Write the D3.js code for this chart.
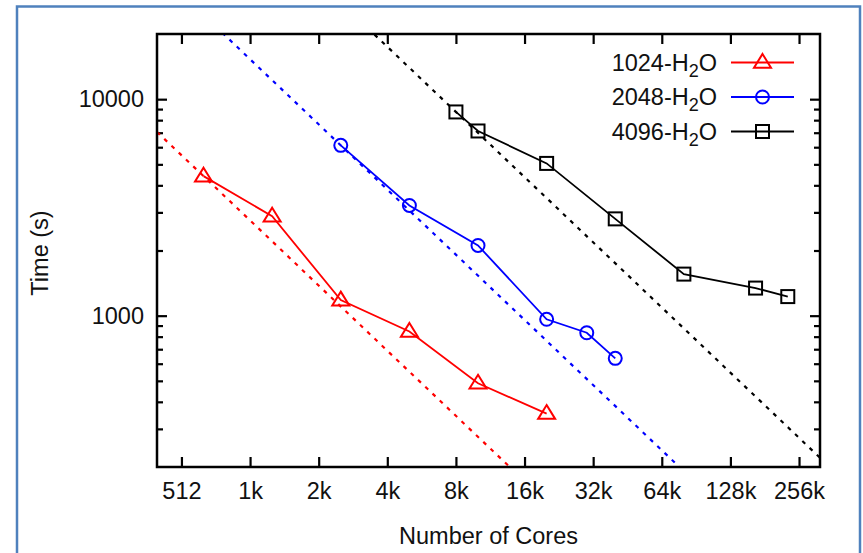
<!doctype html>
<html>
  <head>
    <meta charset="utf-8">
    <script src="https://cdn.jsdelivr.net/npm/d3@7"></script>
    <style>
      body { margin: 0; background: #ffffff; }
      svg { display: block; font-family: "Liberation Sans", Arial, sans-serif; }
    </style>
  </head>
  <body>
    <svg id="chart" width="863" height="553"></svg>
    <script>
      // data
      var seriesNames = ["1024", "2048", "4096"];
      var seriesColors = ["#ff0000", "#0000ff", "#000000"];
      var seriesSymbols = ["triangle", "circle", "square"];
      var cores1024 = [640, 1280, 2560, 5120, 10240, 20480];
      var time1024  = [4410, 2880, 1180, 845, 487, 353];
      var cores2048 = [2560, 5120, 10240, 20480, 30720, 40960];
      var time2048  = [6120, 3230, 2110, 962, 834, 635];
      var cores4096 = [8192, 10240, 20480, 40960, 81920, 169000, 234000];
      var time4096  = [8730, 7130, 5050, 2800, 1556, 1341, 1225];
      var xTicks = [512, 1024, 2048, 4096, 8192, 16384, 32768, 65536, 131072, 262144];
      var xTickLabels = ["512", "1k", "2k", "4k", "8k", "16k", "32k", "64k", "128k", "256k"];
      var yTicks = [1000, 10000];
      var yMinorTicks = [300, 400, 500, 600, 700, 800, 900, 2000, 3000, 4000, 5000, 6000, 7000, 8000, 9000];

      var series = [
        { cores: cores1024, time: time1024 },
        { cores: cores2048, time: time2048 },
        { cores: cores4096, time: time4096 }
      ];

      var margin = { left: 157, top: 34, right: 820, bottom: 467 };
      var svg = d3.select("#chart");

      // outer blue frame
      svg.append("rect")
        .attr("x", 17).attr("y", 6.5)
        .attr("width", 843).attr("height", 600)
        .attr("fill", "none")
        .attr("stroke", "#4f81bd")
        .attr("stroke-width", 2.5);

      var x = d3.scaleLog().base(2).domain([400, 324000]).range([margin.left, margin.right]);
      var y = d3.scaleLog().domain([200, 20000]).range([margin.bottom, margin.top]);

      svg.append("clipPath").attr("id", "plotclip")
        .append("rect")
          .attr("x", margin.left).attr("y", margin.top)
          .attr("width", margin.right - margin.left)
          .attr("height", margin.bottom - margin.top);

      var fontSize = 23.5;

      // axes, ticks pointing inwards like gnuplot
      var gx = svg.append("g").attr("transform", "translate(0," + margin.bottom + ")")
        .call(d3.axisBottom(x).tickValues(xTicks).tickSizeInner(-10).tickSizeOuter(0).tickPadding(27)
          .tickFormat(function(d, i) { return xTickLabels[i]; }));
      var gxt = svg.append("g").attr("transform", "translate(0," + margin.top + ")")
        .call(d3.axisTop(x).tickValues(xTicks).tickSizeInner(-10).tickSizeOuter(0).tickFormat(""));
      var gy = svg.append("g").attr("transform", "translate(" + margin.left + ",0)")
        .call(d3.axisLeft(y).tickValues(yTicks).tickSizeInner(-10).tickSizeOuter(0).tickPadding(13)
          .tickFormat(d3.format("d")));
      var gym = svg.append("g").attr("transform", "translate(" + margin.left + ",0)")
        .call(d3.axisLeft(y).tickValues(yMinorTicks).tickSizeInner(-6).tickSizeOuter(0).tickFormat(""));
      var gyr = svg.append("g").attr("transform", "translate(" + margin.right + ",0)")
        .call(d3.axisRight(y).tickValues(yTicks).tickSizeInner(-10).tickSizeOuter(0).tickFormat(""));
      var gyrm = svg.append("g").attr("transform", "translate(" + margin.right + ",0)")
        .call(d3.axisRight(y).tickValues(yMinorTicks).tickSizeInner(-6).tickSizeOuter(0).tickFormat(""));

      [gx, gxt, gy, gym, gyr, gyrm].forEach(function(g) {
        g.select(".domain").remove();
        g.selectAll(".tick line").attr("stroke", "#000").attr("stroke-width", 2.2);
        g.selectAll(".tick text")
          .attr("font-family", "Liberation Sans, Arial, sans-serif")
          .attr("font-size", fontSize).attr("fill", "#111");
      });
      gx.selectAll(".tick text").attr("dy", "0.2em");

      // ideal scaling lines (T ~ 1/N through first point)
      var ideal = svg.append("g").attr("clip-path", "url(#plotclip)");
      series.forEach(function(s, i) {
        var k = s.cores[0] * s.time[0];
        var xd = x.domain();
        ideal.append("line")
          .attr("x1", x(xd[0])).attr("y1", y(k / xd[0]))
          .attr("x2", x(xd[1])).attr("y2", y(k / xd[1]))
          .attr("stroke", seriesColors[i])
          .attr("stroke-width", 2.2)
          .attr("stroke-dasharray", "4,6");
      });

      // symbols
      function drawSymbol(g, type, cx, cy, color) {
        if (type === "triangle") {
          var r = 8.5;
          g.append("path")
            .attr("d", "M" + cx + "," + (cy - r) + "L" + (cx + r) + "," + (cy + r * 0.62) +
              "L" + (cx - r) + "," + (cy + r * 0.62) + "Z")
            .attr("fill", "none").attr("stroke", color).attr("stroke-width", 2);
        } else if (type === "circle") {
          g.append("circle").attr("cx", cx).attr("cy", cy).attr("r", 6.5)
            .attr("fill", "none").attr("stroke", color).attr("stroke-width", 2);
        } else {
          g.append("rect").attr("x", cx - 6.5).attr("y", cy - 6.5)
            .attr("width", 13).attr("height", 13)
            .attr("fill", "none").attr("stroke", color).attr("stroke-width", 2);
        }
      }

      var line = d3.line().x(function(d) { return x(d[0]); }).y(function(d) { return y(d[1]); });
      var plot = svg.append("g");
      series.forEach(function(s, i) {
        var pts = d3.zip(s.cores, s.time);
        plot.append("path").datum(pts)
          .attr("d", line)
          .attr("fill", "none")
          .attr("stroke", seriesColors[i])
          .attr("stroke-width", 1.8);
        pts.forEach(function(p) {
          drawSymbol(plot, seriesSymbols[i], x(p[0]), y(p[1]), seriesColors[i]);
        });
      });

      // plot border
      svg.append("rect")
        .attr("x", margin.left).attr("y", margin.top)
        .attr("width", margin.right - margin.left)
        .attr("height", margin.bottom - margin.top)
        .attr("fill", "none").attr("stroke", "#000").attr("stroke-width", 2.5);

      // legend
      var legend = svg.append("g");
      seriesNames.forEach(function(name, i) {
        var ly = 62.5 + i * 34.5;
        var t = legend.append("text")
          .attr("x", 717).attr("y", ly + 8)
          .attr("text-anchor", "end")
          .attr("font-size", fontSize).attr("fill", "#111");
        t.append("tspan").text(name + "-H");
        t.append("tspan").attr("font-size", 18).attr("dy", 6).text("2");
        t.append("tspan").attr("dy", -6).text("O");
        legend.append("line")
          .attr("x1", 731).attr("x2", 794).attr("y1", ly).attr("y2", ly)
          .attr("stroke", seriesColors[i]).attr("stroke-width", 1.8);
        drawSymbol(legend, seriesSymbols[i], 762.5, ly, seriesColors[i]);
      });

      // axis labels
      svg.append("text")
        .attr("x", (margin.left + margin.right) / 2).attr("y", 544)
        .attr("text-anchor", "middle")
        .attr("font-size", fontSize).attr("fill", "#111")
        .text("Number of Cores");
      svg.append("text")
        .attr("transform", "translate(48," + 253 + ") rotate(-90)")
        .attr("text-anchor", "middle")
        .attr("font-size", fontSize).attr("fill", "#111")
        .text("Time (s)");
    </script>
  </body>
</html>
